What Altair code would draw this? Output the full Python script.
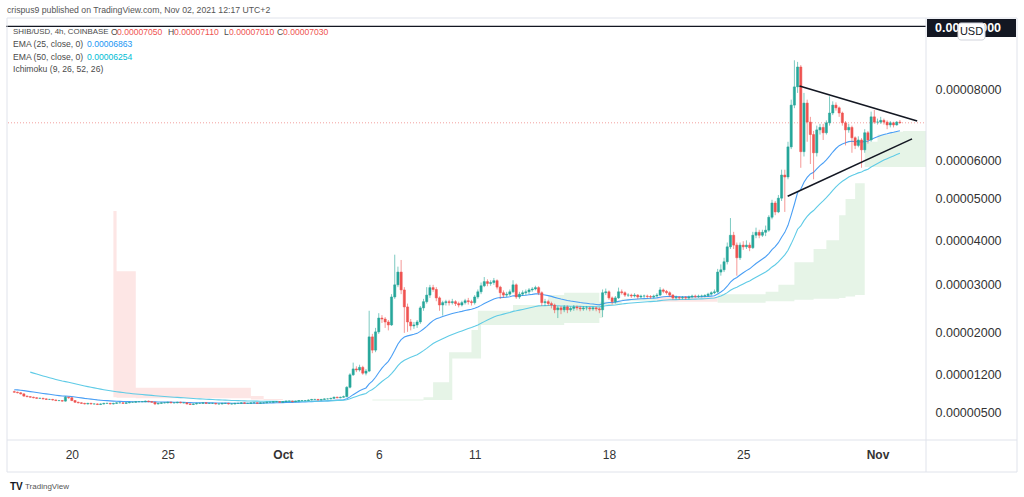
import altair as alt
import pandas as pd

UNIT = 1e-5  # prices below are written in units of 0.00001 USD

FIRST_OPEN = 0.88
CLOSE = [
    0.87, 0.86, 0.84, 0.80, 0.79, 0.78, 0.77, 0.76, 0.76, 0.75,
    0.74, 0.74, 0.73, 0.72, 0.72, 0.71, 0.78, 0.77, 0.72, 0.69,
    0.68, 0.67, 0.66, 0.67, 0.66, 0.66, 0.65, 0.66, 0.67, 0.67,
    0.66, 0.67, 0.68, 0.68, 0.67, 0.68, 0.69, 0.69, 0.70, 0.70,
    0.70, 0.71, 0.70, 0.69, 0.66, 0.67, 0.68, 0.68, 0.69, 0.68,
    0.68, 0.69, 0.68, 0.68, 0.66, 0.65, 0.66, 0.67, 0.67, 0.68,
    0.67, 0.67, 0.67, 0.66, 0.66, 0.67, 0.67, 0.66, 0.66, 0.67,
    0.67, 0.68, 0.67, 0.67, 0.68, 0.68, 0.67, 0.68, 0.68, 0.69,
    0.69, 0.70, 0.70, 0.69, 0.70, 0.71, 0.71, 0.70, 0.71, 0.72,
    0.72, 0.72, 0.73, 0.74, 0.74, 0.73, 0.74, 0.75, 0.75, 0.76,
    0.78, 0.77, 0.78, 0.79, 0.96, 1.19, 1.30, 1.28, 1.33, 1.22,
    1.26, 1.92, 1.66, 2.02, 2.30, 2.28, 2.22, 2.16, 2.74, 3.00,
    3.28, 2.89, 2.53, 2.22, 2.14, 2.16, 2.22, 2.51, 2.64, 2.78,
    2.94, 2.90, 2.72, 2.57, 2.62, 2.64, 2.62, 2.64, 2.60, 2.57,
    2.62, 2.66, 2.64, 2.62, 2.74, 2.85, 2.98, 3.07, 3.03, 3.05,
    3.09, 2.95, 2.83, 2.78, 2.80, 2.85, 3.00, 2.74, 2.80, 2.83,
    2.85, 2.89, 2.91, 2.94, 2.83, 2.62, 2.64, 2.60, 2.57, 2.47,
    2.51, 2.47, 2.53, 2.47, 2.50, 2.53, 2.51, 2.49, 2.51, 2.51,
    2.49, 2.51, 2.49, 2.47, 2.83, 2.85, 2.72, 2.64, 2.72, 2.85,
    2.83, 2.78, 2.78, 2.76, 2.78, 2.74, 2.76, 2.76, 2.75, 2.74,
    2.76, 2.78, 2.89, 2.86, 2.83, 2.78, 2.72, 2.73, 2.72, 2.73,
    2.72, 2.74, 2.76, 2.75, 2.76, 2.76, 2.77, 2.80, 2.83, 2.85,
    3.28, 3.33, 3.51, 3.85, 4.12, 3.89, 3.60, 3.89, 3.85, 3.89,
    3.83, 4.12, 4.19, 4.12, 4.19, 4.24, 4.55, 4.90, 4.68, 5.02,
    5.61, 5.56, 6.36, 7.54, 8.08, 8.69, 6.23, 7.60, 7.05, 6.70,
    6.20, 6.83, 6.90, 6.75, 7.03, 7.31, 7.54, 7.46, 7.31, 7.03,
    6.83, 6.90, 6.61, 6.40, 6.55, 6.28, 6.75, 6.55, 7.20, 7.05,
    7.05, 7.10, 7.05, 6.97, 7.03, 6.97, 7.05, 7.03,
]
HIGH = [
    0.90, 0.88, 0.87, 0.85, 0.81, 0.80, 0.79, 0.78, 0.77, 0.77,
    0.76, 0.75, 0.75, 0.74, 0.73, 0.73, 0.80, 0.79, 0.78, 0.73,
    0.70, 0.69, 0.68, 0.68, 0.68, 0.67, 0.67, 0.67, 0.68, 0.68,
    0.68, 0.68, 0.69, 0.69, 0.69, 0.69, 0.70, 0.70, 0.71, 0.71,
    0.71, 0.72, 0.72, 0.71, 0.70, 0.68, 0.69, 0.69, 0.70, 0.70,
    0.69, 0.70, 0.70, 0.69, 0.69, 0.67, 0.67, 0.68, 0.68, 0.69,
    0.69, 0.68, 0.68, 0.68, 0.67, 0.68, 0.68, 0.68, 0.67, 0.68,
    0.68, 0.69, 0.69, 0.68, 0.69, 0.69, 0.69, 0.69, 0.69, 0.70,
    0.70, 0.71, 0.71, 0.71, 0.71, 0.72, 0.72, 0.72, 0.72, 0.73,
    0.73, 0.73, 0.74, 0.75, 0.75, 0.75, 0.75, 0.76, 0.76, 0.77,
    0.79, 0.79, 0.79, 0.81, 0.98, 1.22, 1.42, 1.35, 1.38, 1.36,
    1.30, 2.45, 1.98, 2.10, 2.40, 2.36, 2.32, 2.26, 2.80, 3.67,
    3.40, 3.55, 2.95, 2.60, 2.28, 2.22, 2.26, 2.55, 2.70, 2.95,
    3.00, 3.00, 2.95, 2.75, 2.66, 2.68, 2.68, 2.70, 2.67, 2.64,
    2.66, 2.70, 2.72, 2.68, 2.78, 2.90, 3.05, 3.17, 3.12, 3.10,
    3.15, 3.12, 2.98, 2.88, 2.85, 2.90, 3.10, 3.03, 2.85, 2.88,
    2.90, 2.93, 2.95, 2.98, 2.97, 2.86, 2.70, 2.68, 2.64, 2.60,
    2.55, 2.55, 2.57, 2.56, 2.54, 2.57, 2.56, 2.55, 2.55, 2.55,
    2.54, 2.54, 2.54, 2.52, 2.90, 2.92, 2.88, 2.75, 2.76, 2.94,
    2.90, 2.86, 2.82, 2.81, 2.82, 2.80, 2.79, 2.79, 2.79, 2.78,
    2.79, 2.82, 2.95, 2.92, 2.89, 2.86, 2.80, 2.77, 2.76, 2.76,
    2.76, 2.77, 2.79, 2.79, 2.79, 2.79, 2.80, 2.83, 2.86, 2.90,
    3.35, 3.45, 3.60, 3.95, 4.53, 4.20, 3.95, 3.95, 3.98, 4.00,
    3.95, 4.20, 4.30, 4.25, 4.25, 4.35, 4.60, 4.98, 4.95, 5.10,
    5.75, 5.75, 6.50, 7.70, 8.90, 8.85, 8.75, 7.90, 7.70, 7.20,
    6.80, 6.95, 7.00, 7.00, 7.10, 7.80, 7.65, 7.62, 7.50, 7.35,
    7.08, 7.00, 6.95, 6.65, 6.65, 6.60, 6.85, 6.80, 7.35, 7.40,
    7.15, 7.20, 7.15, 7.10, 7.08, 7.06, 7.08, 7.11,
]
LOW = [
    0.86, 0.85, 0.83, 0.79, 0.78, 0.77, 0.76, 0.75, 0.75, 0.74,
    0.73, 0.73, 0.72, 0.71, 0.71, 0.70, 0.70, 0.75, 0.71, 0.68,
    0.67, 0.66, 0.65, 0.65, 0.65, 0.65, 0.64, 0.64, 0.65, 0.66,
    0.65, 0.65, 0.66, 0.67, 0.66, 0.66, 0.67, 0.68, 0.68, 0.69,
    0.69, 0.69, 0.69, 0.68, 0.64, 0.65, 0.66, 0.67, 0.67, 0.67,
    0.67, 0.67, 0.67, 0.67, 0.65, 0.64, 0.64, 0.65, 0.66, 0.66,
    0.66, 0.66, 0.66, 0.65, 0.65, 0.65, 0.66, 0.65, 0.65, 0.65,
    0.66, 0.66, 0.66, 0.66, 0.66, 0.67, 0.66, 0.66, 0.67, 0.67,
    0.68, 0.68, 0.69, 0.68, 0.68, 0.69, 0.70, 0.69, 0.69, 0.70,
    0.71, 0.71, 0.71, 0.72, 0.73, 0.72, 0.72, 0.73, 0.74, 0.74,
    0.75, 0.76, 0.76, 0.77, 0.78, 0.94, 1.17, 1.24, 1.25, 1.19,
    1.18, 1.24, 1.60, 1.62, 1.98, 2.20, 2.10, 2.05, 2.14, 2.70,
    2.95, 2.80, 2.00, 2.02, 2.05, 2.08, 2.10, 2.18, 2.45, 2.60,
    2.72, 2.85, 2.65, 2.45, 2.35, 2.56, 2.56, 2.58, 2.55, 2.52,
    2.54, 2.58, 2.58, 2.56, 2.58, 2.70, 2.80, 2.95, 2.97, 2.98,
    3.00, 2.90, 2.70, 2.72, 2.74, 2.76, 2.82, 2.70, 2.70, 2.76,
    2.78, 2.80, 2.85, 2.88, 2.78, 2.55, 2.55, 2.55, 2.50, 2.40,
    2.30, 2.38, 2.42, 2.40, 2.43, 2.45, 2.46, 2.44, 2.45, 2.46,
    2.44, 2.45, 2.44, 2.40, 2.32, 2.78, 2.68, 2.58, 2.60, 2.70,
    2.79, 2.74, 2.74, 2.72, 2.73, 2.70, 2.71, 2.72, 2.71, 2.70,
    2.71, 2.73, 2.76, 2.82, 2.79, 2.74, 2.68, 2.69, 2.68, 2.69,
    2.68, 2.69, 2.71, 2.72, 2.72, 2.73, 2.73, 2.74, 2.77, 2.80,
    2.82, 3.20, 3.28, 3.45, 3.80, 3.80, 3.20, 3.55, 3.78, 3.80,
    3.75, 3.80, 4.05, 4.05, 4.08, 4.10, 4.20, 4.50, 4.60, 4.65,
    4.95, 4.68, 5.50, 6.30, 7.45, 7.90, 5.80, 6.10, 6.50, 5.90,
    5.50, 6.10, 6.70, 6.55, 6.70, 6.95, 7.25, 7.38, 7.20, 6.95,
    6.40, 6.75, 6.20, 6.30, 6.35, 5.80, 6.20, 6.45, 6.50, 7.00,
    6.98, 7.00, 6.98, 6.85, 6.90, 6.90, 6.95, 7.01,
]

# EMA starting values read at the left edge of the chart
EMA25_SEED = 0.92
EMA50_SEED = 1.24
EMA50_FIRST_BAR = 5

# Ichimoku cloud (leading spans A and B, shifted forward), breakpoints
CLOUD_SEG = [1] * 6 + [2] * 16 + [3] * 2 + [4] * 14
CLOUD_KIND = ["bear"] * 6 + ["bull"] * 16 + ["bear"] * 2 + ["bull"] * 14
CLOUD_IDX = [31, 32, 38, 74, 78, 84,
             84, 112, 128, 131, 136, 137, 143, 145, 146, 156, 167, 172, 183, 184, 190, 201,
             201, 220,
             220, 235, 239, 244, 250, 254, 258, 260, 263, 266, 270, 274, 278, 290]
CLOUD_A = [0.78, 0.77, 0.76, 0.74, 0.73, 0.72,
           0.72, 0.74, 0.78, 1.05, 1.62, 1.62, 2.06, 2.45, 2.45, 2.57, 2.78, 2.83, 2.64, 2.64, 2.70, 2.72,
           2.64, 2.64,
           2.80, 2.85, 3.00, 3.50, 3.80, 4.00, 4.60, 5.00, 5.40, 6.50, 6.70, 6.78, 6.80, 6.80]
CLOUD_B = [4.70, 3.30, 0.95, 0.80, 0.75, 0.72,
           0.72, 0.72, 0.73, 0.73, 0.73, 1.50, 1.50, 1.50, 2.16, 2.16, 2.16, 2.20, 2.30, 2.57, 2.66, 2.72,
           2.74, 2.74,
           2.62, 2.65, 2.65, 2.68, 2.70, 2.70, 2.72, 2.75, 2.78, 5.82, 5.82, 5.82, 5.82, 5.82]

# Triangle drawn on the chart (bar index, price)
TRI_UPPER_IDX = [245.6, 282.4]
TRI_UPPER_P = [8.11, 7.08]
TRI_LOWER_IDX = [241.9, 280.8]
TRI_LOWER_P = [5.07, 6.58]

HLINE_P = 10.0
LAST_CLOSE_P = 7.03

Y_TICKS = [0.5, 1.2, 2.0, 3.0, 4.0, 5.0, 6.0, 8.0]
X_TICK_IDX = [18, 48, 84, 114, 144, 186, 228, 270]
X_TICK_LABELS = ["20", "25", "Oct", "6", "11", "18", "25", "Nov"]

UP = "#26a69a"
DOWN = "#ef5350"
FONT = "Liberation Sans"

# ---------------- build tables ----------------
opens = [FIRST_OPEN] + CLOSE[:-1]
candles = pd.DataFrame({
    "i": list(range(len(CLOSE))),
    "open": [v * UNIT for v in opens],
    "close": [v * UNIT for v in CLOSE],
    "high": [v * UNIT for v in HIGH],
    "low": [v * UNIT for v in LOW],
})
candles["k"] = ["up" if c >= o else "down" for o, c in zip(candles["open"], candles["close"])]

ema_rows = []
a25 = 2 / 26
prev = EMA25_SEED
for i, c in enumerate(CLOSE):
    prev = a25 * c + (1 - a25) * prev
    ema_rows.append({"i": i, "v": prev * UNIT, "k": "ema25"})
a50 = 2 / 51
prev = EMA50_SEED
for i, c in enumerate(CLOSE):
    if i < EMA50_FIRST_BAR:
        continue
    if i > EMA50_FIRST_BAR:
        prev = a50 * c + (1 - a50) * prev
    ema_rows.append({"i": i, "v": prev * UNIT, "k": "ema50"})
ema = pd.DataFrame(ema_rows)

cloud = pd.DataFrame({
    "seg": CLOUD_SEG, "k": CLOUD_KIND, "i": CLOUD_IDX,
    "a": [v * UNIT for v in CLOUD_A], "b": [v * UNIT for v in CLOUD_B],
})

tri = pd.DataFrame({
    "line": ["u", "u", "l", "l"],
    "i": TRI_UPPER_IDX + TRI_LOWER_IDX,
    "p": [v * UNIT for v in TRI_UPPER_P + TRI_LOWER_P],
})

W, H = 918, 422
xscale = alt.Scale(domain=[-0.4, 283.6], nice=False, zero=False)
yscale = alt.Scale(type="symlog", constant=1e-4, domain=[3.8e-7, 1.028e-4], nice=False, zero=False)
cscale = alt.Scale(
    domain=["bull", "bear", "ema25", "ema50", "up", "down"],
    range=["#e6f4e7", "#fde6e5", "#4a9ff5", "#5fcbe6", UP, DOWN],
)

label_expr = " : ".join(
    f"datum.value == {v} ? '{t}'" for v, t in zip(X_TICK_IDX, X_TICK_LABELS)
) + " : ''"

x_axis = alt.Axis(
    values=X_TICK_IDX, labelExpr=label_expr, ticks=False, domain=False, grid=False,
    labelFontSize=12, labelColor="#333333", labelFont=FONT, labelPadding=9, title=None,
    labelFontWeight={"condition": {"test": "datum.value == 84 || datum.value == 270", "value": "bold"},
                     "value": "normal"},
)
y_axis = alt.Axis(
    values=[v * UNIT for v in Y_TICKS], format=".8f", orient="right", ticks=False, domain=False,
    grid=False, labelFontSize=12.5, labelColor="#333333", labelFont=FONT, labelPadding=9,
    labelAlign="left", title=None,
)


def X(f="i"):
    return alt.X(f"{f}:Q", scale=xscale, axis=x_axis, title=None)


def Y(f):
    return alt.Y(f"{f}:Q", scale=yscale, axis=y_axis, title=None)


COLOR = alt.Color("k:N", scale=cscale, legend=None)

cloud_layer = alt.Chart(cloud).mark_area(interpolate="step-after", clip=True).encode(
    x=X(), y=Y("a"), y2="b:Q", color=COLOR, detail="seg:N",
)

hline = alt.Chart(pd.DataFrame({"p": [HLINE_P * UNIT]})).mark_rule(color="#131722", strokeWidth=1.2).encode(
    y=Y("p"), x=alt.value(-2), x2=alt.value(W),
)
lastline = alt.Chart(pd.DataFrame({"p": [LAST_CLOSE_P * UNIT]})).mark_rule(
    color="#f3a09e", strokeWidth=1, strokeDash=[1, 2]).encode(
    y=Y("p"), x=alt.value(0), x2=alt.value(W),
)

ema_layer = alt.Chart(ema).mark_line(strokeWidth=1.1).encode(
    x=X(), y=Y("v"), color=COLOR, detail="k:N",
)

wicks = alt.Chart(candles).mark_rule(strokeWidth=1, opacity=0.6).encode(
    x=X(), y=Y("low"), y2="high:Q", color=COLOR,
)
bodies = alt.Chart(candles).mark_bar(size=2.2, strokeWidth=0.5).encode(
    x=X(), y=Y("open"), y2="close:Q", color=COLOR,
    stroke=alt.Stroke("k:N", scale=alt.Scale(domain=["up", "down"], range=[UP, DOWN]), legend=None),
)

tri_layer = alt.Chart(tri).mark_line(color="#131722", strokeWidth=1.6).encode(
    x=X(), y=Y("p"), detail="line:N",
)


def txt(s, x, y, color="#4a4a4a", size=8.6, weight="normal", align="left", font=FONT):
    return alt.Chart(alt.Data(values=[{}])).mark_text(
        text=s, align=align, baseline="middle", fontSize=size, color=color,
        fontWeight=weight, font=font,
    ).encode(x=alt.value(x), y=alt.value(y))


def box(x1, x2, y1, y2, fill, stroke=None, radius=0):
    kw = dict(color=fill, cornerRadius=radius)
    if stroke:
        kw.update(stroke=stroke, strokeWidth=1)
    return alt.Chart(alt.Data(values=[{}])).mark_rect(**kw).encode(
        x=alt.value(x1), x2=alt.value(x2), y=alt.value(y1), y2=alt.value(y2))


def hrule(x1, x2, y, color="#e0e3eb"):
    return alt.Chart(alt.Data(values=[{}])).mark_rule(color=color, strokeWidth=1).encode(
        x=alt.value(x1), x2=alt.value(x2), y=alt.value(y))


def vrule(x, y1, y2, color="#e0e3eb"):
    return alt.Chart(alt.Data(values=[{}])).mark_rule(color=color, strokeWidth=1).encode(
        x=alt.value(x), y=alt.value(y1), y2=alt.value(y2))


# frame (coordinates relative to plot origin at page (8, 18))
frame = [
    hrule(-1, 1009, 0), hrule(-1, 1009, 454), hrule(-1, 1009, 422),
    vrule(-1, 0, 454), vrule(1009, 0, 454), vrule(W, 0, 454),
]

texts = [
    txt("crispus9 published on TradingView.com, Nov 02, 2021 12:17 UTC+2", -1, -8, color="#555555", size=8.7),
    txt("SHIB/USD, 4h, COINBASE", 5, 14, size=7.9),
    txt("O", 103, 14), txt("0.00007050", 109, 14, color=DOWN),
    txt("H", 160, 14), txt("0.00007110", 166, 14, color=DOWN),
    txt("L", 216, 14), txt("0.00007010", 221, 14, color=DOWN),
    txt("C", 269, 14), txt("0.00007030", 275, 14, color=DOWN),
    txt("EMA (25, close, 0)", 5, 26), txt("0.00006863", 79, 26, color="#2196f3"),
    txt("EMA (50, close, 0)", 5, 38.5), txt("0.00006254", 79, 38.5, color="#00bcd4"),
    txt("Ichimoku (9, 26, 52, 26)", 5, 51),
    txt("TV", 2, 469, color="#131722", size=10, weight="bold"),
    txt("TradingView", 17, 469, color="#555555", size=8),
]

price_tag = [
    box(W + 1, 1008, 1, 19, "#131722"),
    txt("0.00010000", W + 9, 10, color="#ffffff", size=12.5, weight="bold"),
    box(950, 977, 5, 22, "#ffffff", stroke="#d1d4dc", radius=3),
    txt("USD", 963.5, 13.5, color="#131722", size=11, align="center"),
]

chart = alt.layer(
    cloud_layer, lastline, hline, ema_layer, wicks, bodies, tri_layer,
    *frame, *price_tag, *texts,
).properties(
    width=W, height=H,
    padding={"left": 8, "top": 18, "right": 98, "bottom": 57},
    autosize=alt.AutoSizeParams(type="none"),
    background="#ffffff",
).configure_view(stroke=None)

chart.save("out.html", embed_options={"renderer": "svg", "actions": False})
